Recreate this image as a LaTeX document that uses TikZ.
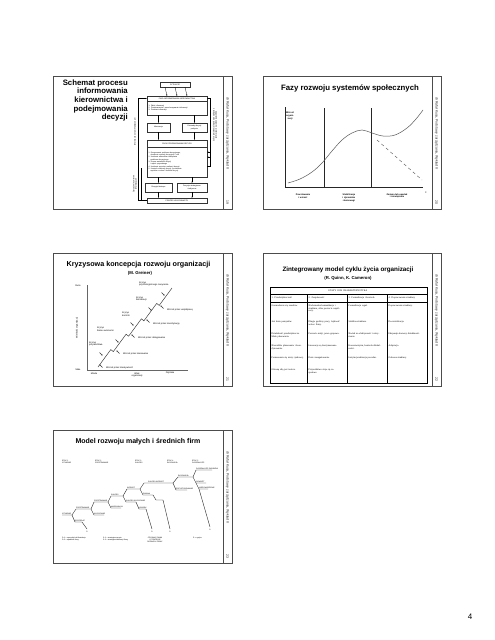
\documentclass[tikz,border=0pt]{standalone}
\usepackage{fontspec}
\setmainfont{Liberation Sans}
\newfontfamily\tabserif{Liberation Serif}
\usetikzlibrary{arrows.meta}
\newcommand\myfs[2]{\fontsize{#1}{#2}\selectfont}
\newcommand\slidefr[6]{%
  \draw[frame] (#1,#2) rectangle (#3,#4);
  \draw[frame] (#3-9,#2) -- (#3-9,#4);
  \node[strip,anchor=west] (#6a) at (#3-4.5,#2+21) {dr Rafał Kusa, Podstawy zarządzania, Wykład II};
  \node[strip] (#6n) at (#3-4.5,#4-7) {#5};
}
\begin{document}
\begin{tikzpicture}[x=1pt,y=-1pt,
  frame/.style={draw=black!70,line width=0.7pt},
  strip/.style={rotate=-90,font=\myfs{3.4}{4},inner sep=0pt,text=black!85},
  ttl/.style={font=\bfseries\myfs{7.8}{8.6},inner sep=0pt,align=center},
  sub/.style={font=\bfseries\myfs{4.3}{5},inner sep=0pt},
  fbox/.style={draw=black!80,line width=0.35pt,inner sep=0.3pt,font=\myfs{1.9}{2.3},align=center},
  arr/.style={-{Stealth[length=1.3pt,width=1.1pt]},line width=0.3pt},
  sarr/.style={-{Stealth[length=1.2pt,width=1.2pt]},line width=0.6pt,black!80},
  lab/.style={font=\myfs{2.3}{2.7},inner sep=0pt,align=center,text=black},
  tcell/.style={font=\tabserif\myfs{2.4}{2.8},inner sep=0pt,align=left,anchor=north west,text width=33pt},
  tl/.style={font=\myfs{1.8}{2.1},inner sep=0pt,anchor=south west},
  tree/.style={line width=0.4pt,black!85},
]
\useasboundingbox (0,0) rectangle (495,640);
\fill[white] (0,0) rectangle (495,640);

% ---------- frames ----------
\slidefr{53}{76}{232}{209}{19}{sa}
\slidefr{263}{76}{441}{209}{20}{sb}
\slidefr{53}{253}{232}{386}{21}{sc}
\slidefr{263}{253}{441}{386}{22}{sd}
\slidefr{53}{430}{232}{563}{23}{se}

% ---------- slide 1 ----------
\node[ttl,align=right,anchor=north east] (t1) at (128,79.5) {Schemat procesu\\informowania\\kierownictwa i\\podejmowania\\decyzji};
\node[fbox,minimum width=30pt,minimum height=5pt] (sit) at (175,84.5) {SYTUACJE};
\node[fbox,minimum width=60pt,minimum height=5pt] (fik) at (177,98.5) {FAZA INFORMOWANIA KIEROWNICTWA};
\node[fbox,minimum width=60pt,minimum height=14pt,text width=57pt,align=left] (fil) at (177,108) {1. Zbiór informacji\\2. Przetwarzanie i przechowywanie informacji\\3. Przekaz informacji};
\node[fbox,minimum width=23pt,minimum height=9pt] (inf) at (158.5,127.5) {Informacje};
\node[fbox,minimum width=25pt,minimum height=9pt] (pot) at (194.5,127.5) {Potrzeby decyzji\\pokrycie};
\node[fbox,minimum width=60pt,minimum height=7pt] (fpd) at (177,143.5) {FAZA PODEJMOWANIA DECYZJI};
\node[fbox,minimum width=60pt,minimum height=30pt,text width=57pt,align=left,font=\myfs{1.8}{2.3}] (fpl) at (177,162) {1. Rozpoznanie problemu decyzyjnego,\\\hspace*{2pt}określenie sytuacji decyzyjnej i celu\\2. Ustalenie wariantów rozwiązania\\\hspace*{2pt}problemu decyzyjnego\\3. Ocena wariantów decyzji\\\hspace*{2pt}i wybór optymalnego\\4. Ustalenie sposobu realizacji decyzji\\5. Kontrola realizacji decyzji, porównanie\\\hspace*{2pt}wyników z celami i korekta decyzji};
\node[fbox,minimum width=27pt,minimum height=9pt] (dbz) at (158.5,187.5) {Decyzje bieżące};
\node[fbox,minimum width=30pt,minimum height=9pt] (dst) at (192,187.5) {Decyzje strategiczne\\i taktyczne};
\node[fbox,minimum width=60pt,minimum height=5pt] (pwk) at (177,200.5) {PROCES WYKONAWCZY};
\draw[arr] (sit.south) -- (fik.north);
\draw[arr] ([xshift=-10pt]sit.south) -- ([xshift=-10pt]fik.north);
\draw[arr] ([xshift=10pt]sit.south) -- ([xshift=10pt]fik.north);
\draw[arr] (inf.north |- fil.south) -- (inf.north);
\draw[arr] (pot.north |- fil.south) -- (pot.north);
\draw[arr] (inf.south) -- (inf.south |- fpd.north);
\draw[arr] (pot.south) -- (pot.south |- fpd.north);
\draw[arr] (dbz.north |- fpl.south) -- (dbz.north);
\draw[arr] (dst.north |- fpl.south) -- (dst.north);
\draw[arr] (dbz.south) -- (dbz.south |- pwk.north);
\draw[arr] (dst.south) -- (dst.south |- pwk.north);
\coordinate (lL) at (138,0);
\coordinate (rR) at (210,0);
\draw[arr] (pwk.west) -- (pwk.west -| lL) -- (fik.west -| lL) -- (fik.west);
\draw[line width=0.3pt] (141,168) -- (141,200);
\node[lab,rotate=90,font=\myfs{2}{2.4}] (l1a) at (135,132) {Informacje o stanie faktycznym};
\node[lab,rotate=90,font=\myfs{2}{2.4}] (l1b) at (135,184) {Sprzężenie zwrotne\\informacyjne};
\draw[arr] ([yshift=-4pt]fpl.east) -- ([yshift=-4pt]fpl.east -| rR) -- (fik.east -| rR) -- (fik.east);
\draw[arr] ([yshift=10pt]fpl.east -| rR) -- ([yshift=10pt]fpl.east);
\draw[arr] ([yshift=5pt]fpl.east -| rR) -- ([yshift=5pt]fpl.east);
\node[lab,rotate=-90,font=\myfs{2}{2.4}] (l1c) at (215,125) {Zapotrzebowanie na informacje\\niezbędne do podejmowania decyzji};

% ---------- slide 2 ----------
\node[ttl] (t2) at (350,88) {Fazy rozwoju systemów społecznych};
\coordinate (o2) at (285,187);
\draw[line width=0.6pt,black!85] (285,107) -- (o2) -- (423,187);
\draw[line width=0.6pt,black!85] (324,108) -- (324,187);
\draw[line width=0.6pt,black!85] (371,108) -- (371,187);
\draw[line width=0.5pt,black!65] plot[smooth,tension=0.6] coordinates {(288,183) (300,179) (312,172) (322,163) (332,151) (342,140) (352,133) (362,130) (372,133) (383,136) (395,135) (407,128) (416,119) (423,110)};
\draw[line width=0.5pt,black!60,dash pattern=on 3pt off 3pt] (377,140) -- (422,180);
\node[lab,font=\bfseries\myfs{2.3}{2.7}] (y2) at (290,116) {Wzrost\\organi-\\zacji};
\node[lab,font=\bfseries\myfs{2.3}{2.7}] (p2a) at (303,196) {Powstawanie\\i wzrost};
\node[lab,font=\bfseries\myfs{2.3}{2.7}] (p2b) at (349,198) {Stabilizacja\\i dynamizm\\równowagi};
\node[lab,font=\bfseries\myfs{2.3}{2.7}] (p2c) at (397,196) {Zmiana lub upadek\\i rozwiązanie};
\node[lab,font=\bfseries\myfs{2.5}{2.9}] (t2t) at (426,193) {t};

% ---------- slide 3 ----------
\node[ttl,font=\bfseries\myfs{7.2}{8}] (t3) at (138.5,265) {Kryzysowa koncepcja rozwoju organizacji};
\node[sub] (s3) at (140,273) {(M. Greiner)};
\draw[line width=0.4pt,black!60] (87,285) -- (87,370) -- (188,370);
\node[lab] (d3) at (78,286) {Duże};
\node[lab] (m3) at (78,370) {Małe};
\node[lab,rotate=90] (w3) at (77,328) {Wielkość organizacji};
\node[lab] (x3a) at (94,374) {Młoda};
\node[lab] (x3b) at (137,375) {Wiek\\organizacji};
\node[lab] (x3c) at (170,373) {Dojrzała};
\draw[line width=0.5pt,black!75] (98,367) -- (110.8,349.6) -- (113.3,351.6) -- (126.1,334.2) -- (128.6,336.2) -- (141.4,318.8) -- (143.9,320.8) -- (156.7,303.4) -- (159.2,305.4) -- (172,288);
\node[lab,anchor=west,align=left] (k1) at (89,344) {Kryzys\\przywództwa};
\node[lab,anchor=west,align=left] (k2) at (97,329) {Kryzys\\braku autonomii};
\node[lab,anchor=west,align=left] (k3) at (122,314) {Kryzys\\kontroli};
\node[lab,anchor=west,align=left] (k4) at (136,299) {Kryzys\\biurokracji};
\node[lab,anchor=west,align=left] (k5) at (139,284) {Kryzys\\psychologicznego nasycenia};
\node[lab,anchor=west] (g1) at (106,368) {Wzrost przez kreatywność};
\node[lab,anchor=west] (g2) at (123,354) {Wzrost przez kierowanie};
\node[lab,anchor=west] (g3) at (138,338) {Wzrost przez delegowanie};
\node[lab,anchor=west] (g4) at (153,324) {Wzrost przez koordynację};
\node[lab,anchor=west] (g5) at (167,310) {Wzrost przez współpracę};
\foreach \x/\y in {101/354,117/341,132/324,150/309,163/294}
  \draw[sarr] (\x-1.5,\y-1.5) -- (\x+1.5,\y+1.5);
\foreach \x/\y in {101/366,118/352,133/336,148/321,162/307}
  \draw[sarr] (\x+1.5,\y+1.5) -- (\x-1.5,\y-1.5);

% ---------- slide 4 ----------
\node[ttl,font=\bfseries\myfs{6.3}{7}] (t4) at (348,270) {Zintegrowany model cyklu życia organizacji};
\node[sub] (s4) at (348,278) {(R. Quinn, K. Cameron)};
\draw[line width=0.5pt] (270,287) rectangle (427,383);
\draw[line width=0.3pt] (270,294) -- (427,294);
\draw[line width=0.3pt] (270,302) -- (427,302);
\foreach \x in {307,347,387} \draw[line width=0.3pt] (\x,294) -- (\x,383);
\node[font=\tabserif\myfs{2.4}{2.8},inner sep=0pt] (h4) at (348,290.5) {ETAPY I ICH CHARAKTERYSTYKA};
\node[tcell,anchor=west] (c1) at (271.5,298) {1. Przedsiębiorczość};
\node[tcell,anchor=west] (c2) at (308.5,298) {2. Zespołowość};
\node[tcell,anchor=west] (c3) at (348.5,298) {3. Formalizacja i kontrola};
\node[tcell,anchor=west] (c4) at (388.5,298) {4. Dopracowanie struktury};
\node[tcell] (a1) at (271.5,304.5) {Gromadzenie się zasobów.};
\node[tcell] (a2) at (271.5,320.5) {Jest dużo pomysłów.};
\node[tcell] (a3) at (271.5,332.5) {Działalność przedsiębiorcza. Mało planowania.};
\node[tcell] (a4) at (271.5,345) {Niewielkie planowanie i koordynowanie.};
\node[tcell] (a5) at (271.5,356.5) {Formowanie się niszy rynkowej.};
\node[tcell] (a6) at (271.5,368.5) {Główną siłą jest twórca.};
\node[tcell] (b1) at (308.5,304.5) {Nieformalna komunikacja i struktura, silne poczucie wspólnoty.};
\node[tcell] (b2) at (308.5,320.5) {Długie godziny pracy, lojalność wobec firmy.};
\node[tcell] (b3) at (308.5,332.5) {Poczucie misji, praca grupowa.};
\node[tcell] (b4) at (308.5,345) {Innowacje są kontynuowane.};
\node[tcell] (b5) at (308.5,356.5) {Duże zaangażowanie.};
\node[tcell] (b6) at (308.5,368.5) {Przywództwo staje się zespołowe.};
\node[tcell] (e1) at (348.5,304.5) {Formalizacja reguł.};
\node[tcell] (e2) at (348.5,320.5) {Stabilna struktura.};
\node[tcell] (e3) at (348.5,332.5) {Nacisk na efektywność i utrzymanie.};
\node[tcell] (e4) at (348.5,345) {Konserwatyzm, kontrola działalności.};
\node[tcell] (e5) at (348.5,356.5) {Instytucjonalizacja procedur.};
\node[tcell] (f1) at (388.5,304.5) {Dopracowanie struktury.};
\node[tcell] (f2) at (388.5,320.5) {Decentralizacja.};
\node[tcell] (f3) at (388.5,332.5) {Ekspansja domeny działalności.};
\node[tcell] (f4) at (388.5,345) {Adaptacja.};
\node[tcell] (f5) at (388.5,356.5) {Odnowa struktury.};

% ---------- slide 5 ----------
\node[ttl,font=\bfseries\myfs{7}{8}] (t5) at (138,442) {Model rozwoju małych i średnich firm};
\node[tl,anchor=west,align=left] (e5a) at (62,462) {ETAP 1\\ISTNIENIE};
\node[tl,anchor=west,align=left] (e5b) at (95,462) {ETAP 2\\PRZETRWANIE};
\node[tl,anchor=west,align=left] (e5c) at (135,462) {ETAP 3\\SUKCES};
\node[tl,anchor=west,align=left] (e5d) at (167,462) {ETAP 4\\EKSPANSJA};
\node[tl,anchor=west,align=left] (e5e) at (192,462) {ETAP 5\\DOJRZAŁOŚĆ};
\draw[tree] (62,515) -- (72,515) -- (76,509) -- (91,509) -- (94,502) -- (108,502) -- (111,496) -- (123,496) -- (127,489) -- (140,489) -- (144,483) -- (173,483) -- (178,477) -- (193,477) -- (196,470) -- (212,470);
\draw[tree] (72,515) -- (75,522) -- (82,522) -- (87,529);
\draw[tree] (91,509) -- (94,515) -- (104,515);
\draw[tree] (108,502) -- (111,508) -- (121,508);
\draw[tree] (123,496) -- (126,502) -- (136,502) -- (139,509) -- (146,509) -- (152,529);
\draw[tree] (140,489) -- (143,495) -- (153,495) -- (156,500) -- (163,500) -- (170,529);
\draw[tree] (173,483) -- (176,490) -- (187,490);
\draw[tree] (193,477) -- (196,483) -- (206,483);
\draw[tree] (196,483) -- (199,489) -- (208,489);
\draw[tree] (199,489) -- (210,527);
\node[tl] (n1) at (62,514.5) {ISTNIENIE};
\node[tl] (n2) at (76,508.5) {PRZETRWANIE};
\node[tl] (n3) at (75,521.5) {SPRZEDAŻ};
\node[tl] (n4) at (94,501.5) {PRZETRWANIE};
\node[tl] (n5) at (94,514.5) {WYCOFANIE};
\node[tl] (n6) at (111,495.5) {SUKCES};
\node[tl] (n7) at (111,507.5) {MARGINALNY};
\node[tl] (n8) at (127,488.5) {WZROST};
\node[tl] (n9) at (126,501.5) {SUKCES-WYCOFANIE};
\node[tl] (n10) at (139,508.5) {UPADEK};
\node[tl] (n11) at (148,482.5) {SUKCES-WZROST};
\node[tl] (n12) at (143,494.5) {ZMIANA};
\node[tl] (n13) at (176,489.5) {PRZYSTOSOWANIE};
\node[tl] (n14) at (178,476.5) {EKSPANSJA};
\node[tl] (n15) at (196,469.5) {DOJRZAŁOŚĆ ZASOBÓW};
\node[tl] (n16) at (196,482.5) {ODWRÓT};
\node[tl] (n17) at (199,488.5) {NIEPOWODZENIE};
\foreach \x/\y/\n in {87/531/1,152/531/2,170/531/3,210/529/4}
  \node[tl,anchor=north] (dd\n) at (\x,\y) {D};
\node[tl,anchor=north west,align=left] (lg1) at (62,537) {D-1 = sprzedaż lub likwidacja\\D-2 = upadłość firmy};
\node[tl,anchor=north west,align=left] (lg2) at (103,537) {S-1 = strategia wzrostu\\S-2 = strategia stabilizacji firmy};
\node[tl,anchor=north,align=center] (lg3) at (155,537) {CZYNNIKI ZMIAN\\I STRATEGIE\\ROZWOJU FIRMY};
\node[tl,anchor=north west,align=left] (lg4) at (193,537) {R = ryzyko};

% ---------- page number ----------
\node[font=\myfs{8}{9},inner sep=0pt] (pg) at (470,617) {4};
\end{tikzpicture}
\end{document}
